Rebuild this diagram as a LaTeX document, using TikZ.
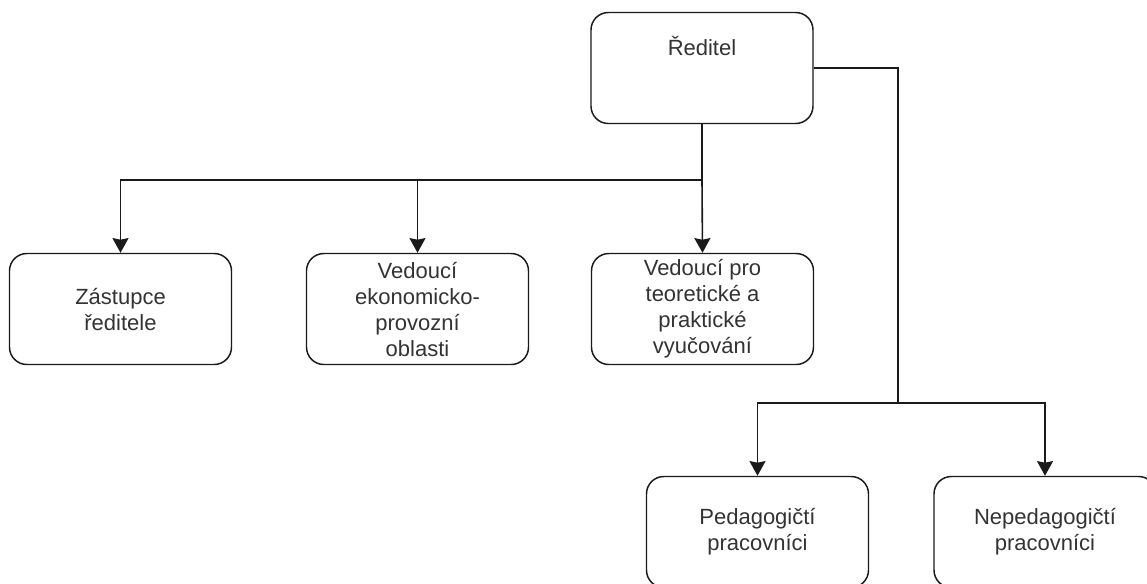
\documentclass[tikz,border=0pt]{standalone}
\usepackage{fontspec}
\setmainfont{Liberation Sans}
\usetikzlibrary{arrows.meta}
\definecolor{txt}{HTML}{333333}
\definecolor{ln}{HTML}{1A1A1A}
\tikzset{
  box/.style={draw=ln, line width=1.1pt, rounded corners=13pt, fill=white,
    minimum width=166.5pt, minimum height=83.25pt, align=center,
    text=txt, font=\fontsize{16.5}{19.5}\selectfont, inner sep=0pt},
  conn/.style={draw=ln, line width=1.2pt},
  arr/.style={conn, -{Stealth[length=11pt, width=12pt, inset=1.2pt]}}
}
\begin{document}
\begin{tikzpicture}[x=0.75pt, y=-0.75pt]
\useasboundingbox (0,0) rectangle (1147,583);
\clip (0,0) rectangle (1147,583);
\node[box, text depth=33pt] (r) at (702,68) {Ředitel};
\node[box] (z) at (120.5,309) {Zástupce\\ ředitele};
\node[box] (e) at (417.5,309) {Vedoucí\\ ekonomicko-\\ provozní\\ oblasti};
\node[box] (t) at (702.5,309) {Vedoucí pro\\ teoretické a\\ praktické\\ vyučování};
\node[box] (p) at (757.5,532) {Pedagogičtí\\ pracovníci};
\node[box] (n) at (1045,532) {Nepedagogičtí\\ pracovníci};
\coordinate (j1) at (702,180);
\coordinate (j2) at (898,403);
\draw[conn] (r.south) -- (j1);
\draw[arr] (j1) -| (z.north);
\draw[arr] (j1) -| (e.north);
\draw[arr] (j1) -- (t.north);
\draw[conn] (r.east) -| (j2);
\draw[arr] (j2) -| (p.north);
\draw[arr] (j2) -| (n.north);
\end{tikzpicture}
\end{document}
